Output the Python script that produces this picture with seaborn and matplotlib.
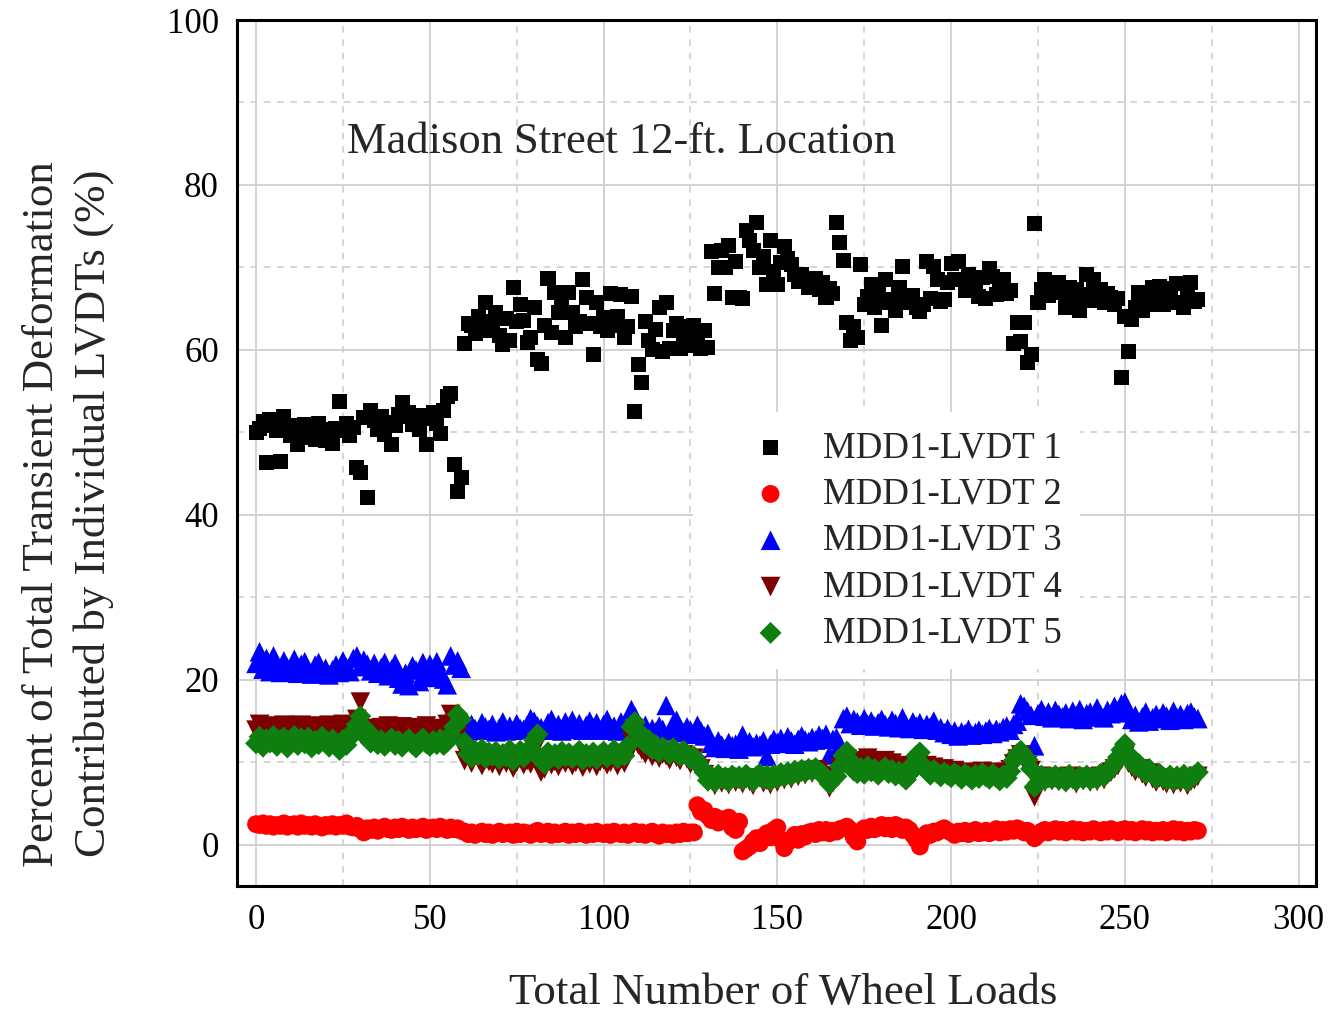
import numpy as np
import pandas as pd
import matplotlib
matplotlib.use("Agg")
import matplotlib.pyplot as plt
from matplotlib.ticker import MultipleLocator
import seaborn as sns

# Percent of total transient deformation per LVDT, one value per wheel load
lvdt1 = [
    50.0, 50.5, 51.3, 46.4, 51.6, 50.8, 50.2, 46.5, 51.9, 50.6,
    49.6, 50.8, 48.5, 49.4, 50.9, 49.8, 50.6, 49.2, 51.1, 50.3,
    49.0, 50.2, 48.7, 50.5, 53.8, 50.2, 51.1, 49.6, 50.6, 45.7,
    45.1, 51.8, 42.1, 52.7, 51.4, 50.3, 51.9, 49.7, 51.2, 48.5,
    50.8, 52.2, 53.6, 51.9, 52.4, 50.9, 51.5, 50.4, 52.0, 48.5,
    51.7, 52.4, 51.1, 49.9, 52.6, 54.3, 54.7, 46.1, 42.8, 44.5,
    60.8, 63.2, 63.0, 62.0, 64.0, 62.5, 65.8, 62.4, 63.5, 64.5,
    61.8, 60.6, 63.8, 61.2, 67.6, 63.5, 65.5, 63.6, 60.9, 61.5,
    65.2, 58.8, 58.4, 63.0, 68.7, 62.1, 67.0, 64.5, 65.8, 61.5,
    67.0, 64.5, 62.8, 63.5, 68.5, 66.4, 63.2, 59.4, 65.7, 62.8,
    63.9, 62.4, 66.9, 63.0, 64.0, 66.7, 61.5, 62.9, 66.5, 52.5,
    58.2, 56.0, 63.4, 61.2, 60.0, 62.5, 65.1, 59.8, 65.8, 60.2,
    62.4, 63.2, 60.2, 61.8, 62.8, 60.5, 63.0, 61.3, 60.2, 62.4,
    60.3,
    71.9, 66.9, 70.0, 72.0, 70.0, 72.7, 66.3, 70.7, 66.3, 66.2,
    74.5, 73.3, 72.1, 75.4, 70.0, 71.3, 67.9, 73.3, 69.5, 67.9,
    70.6, 72.5, 71.1, 70.3, 69.2, 68.3, 69.1, 68.5, 67.6, 67.9,
    68.6, 67.3, 68.2, 66.3, 67.5, 66.8, 75.5, 73.0, 70.9, 63.3,
    61.2, 62.8, 61.5, 70.3, 65.5, 66.5, 67.9, 65.2, 66.9, 63.0,
    68.5, 65.8, 66.1, 64.8, 67.6, 70.1, 66.4, 65.8, 66.6, 65.1,
    64.7, 65.5, 70.7, 66.2, 70.1, 68.5, 65.9, 66.1, 68.2, 70.5,
    68.5, 70.7, 68.5, 67.2, 69.1, 68.0, 67.5, 66.5, 68.8, 66.2,
    69.9, 68.9, 66.7, 67.8, 68.5, 66.9, 67.2, 60.8, 63.3, 61.0,
    63.3, 58.5, 59.4, 75.3, 65.8, 67.3, 68.5, 66.6, 67.9, 68.0,
    68.2, 67.0, 65.1, 67.6, 66.5, 67.3, 64.8, 66.0, 69.1, 66.7,
    68.5, 66.0, 67.3, 65.8, 66.9, 66.4, 65.5, 66.2, 56.6, 64.0,
    59.8, 63.7, 65.2, 67.0, 64.8, 66.3, 65.5, 67.6, 66.0, 67.7,
    65.5, 67.5, 66.2, 65.8, 68.1, 65.7, 65.1, 66.8, 68.2, 65.9, 66.1,
]

lvdt2 = [
    2.5, 2.4, 2.6, 2.3, 2.5, 2.2, 2.4, 2.3, 2.6, 2.2,
    2.4, 2.5, 2.2, 2.6, 2.3, 2.4, 2.2, 2.5, 2.3, 2.1,
    2.4, 2.3, 2.5, 2.2, 2.4, 2.3, 2.6, 2.2, 2.1, 2.3,
    1.9, 1.5, 2.0, 1.8, 2.1, 1.7, 2.0, 2.2, 1.9, 1.8,
    2.1, 1.9, 2.2, 2.0, 1.8, 2.1, 1.9, 2.0, 2.2, 1.8,
    2.0, 2.1, 1.9, 2.2, 2.0, 1.8, 2.1, 1.9, 2.0, 1.7,
    1.6, 1.3, 1.5, 1.2, 1.4, 1.6, 1.3, 1.5, 1.2, 1.4,
    1.6, 1.3, 1.4, 1.5, 1.2, 1.6, 1.3, 1.5, 1.4, 1.2,
    1.5, 1.7, 1.3, 1.4, 1.6, 1.2, 1.5, 1.3, 1.4, 1.6,
    1.2, 1.5, 1.3, 1.6, 1.4, 1.2, 1.5, 1.3, 1.6, 1.4,
    1.3, 1.5, 1.2, 1.6, 1.4, 1.3, 1.5, 1.2, 1.4, 1.6,
    1.3, 1.5, 1.2, 1.4, 1.6, 1.3, 1.1, 1.5, 1.3, 1.4,
    1.2, 1.5, 1.3, 1.6, 1.4, 1.5, 1.5, 4.8, 4.0, 4.2,
    3.5, 3.0, 3.4, 2.7, 3.1, 2.9, 3.3, 2.1, 1.8, 2.8,
    -0.8, -0.5, -0.2, 0.4, 0.8, 0.2, 1.0, 1.4, 0.9, 1.8,
    2.1, 0.6, -0.4, 0.3, 0.7, 1.2, 0.6, 1.3, 1.0, 1.5,
    1.6, 1.3, 1.8, 1.5, 1.8, 1.4, 1.7, 1.6, 1.9, 2.0,
    2.2, 1.8, 0.9, 0.4, 1.6, 2.0, 1.8, 2.2, 1.9, 2.1,
    2.4, 2.0, 2.3, 1.9, 2.4, 2.2, 1.8, 2.1, 1.8, 1.2,
    0.6, -0.2, 0.8, 1.4, 1.2, 1.6, 1.5, 1.8, 2.0, 1.7,
    1.5, 1.2, 1.6, 1.4, 1.7, 1.3, 1.6, 1.8, 1.4, 1.5,
    1.7, 1.4, 1.6, 1.9, 1.5, 1.8, 1.6, 1.9, 1.7, 2.0,
    1.8, 1.5, 1.7, 1.3, 0.8, 1.2, 1.6, 1.8, 1.5, 1.7,
    1.9, 1.6, 1.8, 1.5, 1.7, 1.9, 1.6, 1.8, 1.5, 1.7,
    1.6, 1.9, 1.7, 1.5, 1.8, 1.6, 1.9, 1.7, 1.5, 1.8,
    1.9, 1.6, 1.8, 1.5, 1.7, 1.9, 1.6, 1.8, 1.5, 1.7,
    1.6, 1.8, 1.5, 1.7, 1.9, 1.6, 1.8, 1.5, 1.7, 1.6, 1.8, 1.7,
]

lvdt3 = [
    22.0, 23.4, 21.3, 22.6, 21.0, 22.9, 21.8, 20.9, 22.3, 21.5,
    21.1, 22.5, 20.8, 21.9, 22.2, 21.0, 20.7, 21.8, 22.1, 20.9,
    21.4, 20.6, 21.2, 21.8, 20.9, 22.3, 21.5, 21.0, 22.6, 22.9,
    21.6, 22.4, 21.9, 21.1, 22.0, 20.8, 21.5, 22.1, 20.5, 21.3,
    22.0, 20.2, 19.5, 20.8, 19.3, 21.7, 21.2, 19.8, 22.1, 20.6,
    21.9, 20.3, 22.2, 21.0, 20.1, 19.4, 22.9, 21.8, 22.3, 21.4,
    14.9, 13.8, 14.6, 14.1, 13.9, 14.8, 14.3, 14.0, 14.6, 13.7,
    14.2, 14.9, 13.8, 14.4, 13.9, 14.7, 14.1, 14.0, 14.5, 15.3,
    15.0, 14.4, 14.2, 13.9, 14.8, 15.2, 14.1, 14.6, 13.8, 14.9,
    14.3, 15.1, 14.0, 14.7, 13.9, 14.5, 15.0, 14.2, 14.8, 13.9,
    14.6, 15.2, 14.1, 14.4, 13.8, 14.9, 14.3, 14.0, 16.4, 15.6,
    14.2, 13.9, 14.5, 13.6, 14.1, 13.7, 14.4, 14.0, 16.9, 13.8,
    14.7, 15.1, 14.2, 13.6, 14.3, 13.9, 13.4, 14.5, 13.8, 13.2,
    13.5, 12.3, 11.8, 12.6, 12.1, 11.7, 12.4, 12.0, 12.2, 11.6,
    13.3, 12.0, 12.5, 11.9, 12.3, 12.1, 12.6, 10.7, 12.2, 12.8,
    12.4, 12.9, 12.3, 13.1, 12.6, 12.2, 12.8, 13.2, 12.7, 12.5,
    13.0, 12.7, 13.3, 12.9, 13.4, 10.9, 12.8, 13.0, 12.2, 15.3,
    15.6, 14.7, 15.2, 14.9, 14.5, 15.3, 14.6, 15.0, 14.4, 14.8,
    15.2, 14.6, 14.3, 15.1, 14.7, 14.2, 15.4, 14.5, 14.1, 14.9,
    14.4, 14.8, 14.0, 14.6, 14.3, 15.0, 13.9, 14.2, 13.6, 14.1,
    13.4, 13.8, 13.2, 13.7, 13.5, 14.0, 13.3, 13.6, 13.9, 13.4,
    13.8, 14.1, 13.5, 14.0, 13.7, 14.2, 14.4, 13.9, 14.6, 15.0,
    17.1, 16.8, 16.2, 15.7, 12.0, 15.9, 16.4, 15.6, 16.1, 15.4,
    16.3, 15.8, 15.5, 16.0, 15.3, 16.2, 15.7, 16.4, 15.2, 15.9,
    16.1, 15.5, 16.6, 15.8, 15.4, 16.3, 15.9, 16.8, 16.2, 17.1,
    17.3, 16.0, 15.2, 15.7, 14.9, 15.5, 16.1, 15.0, 15.4, 15.8,
    15.3, 16.0, 15.6, 15.1, 16.2, 15.4, 15.8, 15.2, 15.9, 16.1, 15.5, 15.3,
]

lvdt4 = [
    13.9, 14.6, 13.5, 14.2, 13.8, 14.4, 13.6, 14.1, 14.5, 13.7,
    14.0, 14.3, 13.6, 14.5, 13.9, 14.2, 13.7, 14.4, 13.8, 14.1,
    13.6, 14.5, 14.0, 13.7, 14.3, 14.6, 13.5, 14.2, 14.4, 15.2,
    17.3, 14.0, 13.2, 13.8, 14.1, 13.6, 14.2, 13.9, 14.4, 13.5,
    14.0, 13.7, 14.3, 13.8, 13.4, 14.1, 13.6, 14.2, 13.9, 14.4,
    13.7, 14.1, 13.5, 13.3, 14.0, 14.6, 15.8, 14.7, 13.2, 12.1,
    10.2, 10.8, 9.9, 11.0, 10.4, 9.6, 10.7, 10.1, 9.8, 10.5,
    9.5, 10.3, 9.9, 10.6, 9.3, 10.0, 10.4, 9.7, 10.2, 9.8,
    11.5, 12.2, 8.8, 9.2, 10.5, 9.7, 10.1, 9.5, 10.3, 9.9,
    10.4, 9.6, 10.0, 10.6, 9.4, 10.2, 9.8, 10.5, 9.5, 10.1,
    10.3, 9.7, 10.0, 10.6, 9.6, 10.4, 9.9, 10.8, 12.6, 13.5,
    12.1, 11.5, 11.0, 11.6, 10.7, 11.2, 10.5, 11.0, 10.8, 10.3,
    11.1, 10.6, 10.2, 10.9, 10.4, 9.8, 10.5, 9.6, 9.2, 8.5,
    7.6, 7.9, 7.2, 8.0, 7.5, 7.8, 7.3, 8.1, 7.6, 7.9,
    7.4, 8.0, 7.7, 7.2, 7.9, 8.1, 7.5, 7.8, 7.3, 8.0,
    7.6, 8.2, 7.9, 8.4, 8.0, 8.6, 8.3, 8.8, 8.5, 9.0,
    8.7, 9.1, 8.8, 8.4, 7.8, 6.9, 7.5, 8.2, 9.3, 10.0,
    10.4, 9.8, 9.1, 9.6, 10.2, 9.4, 10.5, 9.7, 10.1, 9.3,
    9.8, 10.2, 9.5, 9.9, 9.0, 9.6, 9.2, 8.8, 9.4, 9.0,
    9.7, 10.1, 9.3, 9.6, 8.9, 9.4, 9.1, 8.7, 9.2, 8.9,
    8.4, 9.0, 8.6, 8.2, 8.8, 8.5, 8.1, 8.7, 8.3, 8.9,
    8.5, 8.2, 8.8, 8.4, 8.0, 8.6, 8.3, 9.1, 9.8, 10.4,
    10.9, 10.2, 9.6, 9.0, 5.8, 7.2, 8.3, 7.6, 8.1, 7.8,
    8.2, 7.7, 8.0, 7.5, 8.3, 7.9, 7.4, 8.1, 7.8, 8.2,
    7.6, 8.0, 7.7, 8.3, 7.9, 8.5, 8.8, 9.2, 9.6, 10.3,
    10.8, 9.9, 9.4, 8.9, 9.2, 8.6, 8.2, 8.7, 8.0, 7.6,
    8.1, 7.7, 7.4, 7.9, 7.3, 7.8, 7.5, 8.0, 7.2, 7.7, 7.9, 8.3,
]

lvdt5 = [
    12.3, 13.1, 11.9, 12.8, 12.4, 13.2, 12.0, 12.7, 13.0, 11.8,
    12.5, 13.2, 12.1, 12.9, 12.3, 13.0, 11.8, 12.6, 12.2, 13.1,
    12.4, 11.9, 12.8, 12.2, 11.5, 12.7, 12.1, 13.0, 13.8, 14.6,
    15.6, 14.3, 12.9, 12.4, 13.0, 12.2, 12.7, 12.0, 12.5, 12.9,
    12.1, 12.6, 11.9, 12.4, 12.8, 12.2, 11.8, 12.5, 12.9, 12.3,
    12.0, 12.6, 12.2, 12.8, 12.1, 12.5, 13.4, 14.3, 15.8, 15.2,
    12.4, 11.0, 10.6, 11.4, 10.9, 11.6, 10.5, 11.2, 10.8, 11.3,
    10.4, 11.0, 10.7, 11.5, 10.2, 10.9, 11.4, 10.6, 11.1, 11.8,
    12.7, 13.4, 10.3, 9.8, 11.2, 10.6, 11.0, 10.4, 11.3, 10.7,
    11.1, 10.5, 10.9, 11.4, 10.3, 11.0, 10.6, 11.2, 10.4, 10.9,
    11.3, 10.6, 11.0, 11.5, 10.5, 11.1, 10.8, 12.0, 14.3, 14.9,
    13.8, 12.9, 12.3, 12.7, 11.6, 12.1, 11.2, 11.8, 11.5, 11.0,
    11.7, 11.2, 10.8, 11.4, 10.9, 10.4, 10.7, 10.1, 9.4, 8.8,
    7.8, 8.3, 7.6, 8.5, 8.0, 8.2, 7.7, 8.4, 8.1, 8.3,
    7.9, 8.5, 8.1, 7.7, 8.3, 8.6, 8.0, 8.4, 7.8, 8.5,
    8.1, 8.7, 8.3, 8.8, 8.4, 9.0, 8.7, 9.1, 8.8, 9.2,
    9.0, 9.3, 8.9, 8.6, 8.0, 7.4, 7.9, 8.3, 9.5, 10.8,
    11.3, 10.2, 9.0, 8.7, 9.3, 8.6, 9.5, 8.9, 9.2, 8.5,
    9.0, 9.4, 8.7, 9.1, 8.4, 8.9, 8.3, 7.9, 8.6, 9.8,
    10.8, 11.2, 9.6, 9.0, 8.5, 9.1, 8.7, 8.3, 8.8, 8.5,
    8.2, 8.7, 8.4, 8.0, 8.6, 8.3, 7.9, 8.5, 8.1, 8.7,
    8.3, 8.0, 8.6, 8.2, 7.8, 8.4, 8.1, 8.9, 10.2, 11.0,
    11.4, 10.8, 10.3, 9.2, 7.0, 7.5, 8.4, 7.9, 8.2, 8.0,
    8.4, 7.9, 8.2, 7.7, 8.5, 8.1, 7.8, 8.3, 8.0, 8.4,
    7.9, 8.2, 8.0, 8.6, 8.3, 8.8, 9.3, 9.9, 10.6, 11.5,
    12.2, 11.0, 10.1, 9.5, 9.8, 9.1, 8.7, 9.2, 8.5, 8.1,
    8.6, 8.2, 7.9, 8.4, 7.8, 8.3, 8.0, 8.5, 7.7, 8.2, 8.4, 8.8,
]

series_names = ["MDD1-LVDT 1", "MDD1-LVDT 2", "MDD1-LVDT 3",
                "MDD1-LVDT 4", "MDD1-LVDT 5"]
series_values = [lvdt1, lvdt2, lvdt3, lvdt4, lvdt5]
for vals in series_values:
    assert len(vals) == 272, len(vals)

wheel_loads = np.arange(272)

markers = ["s", "o", "^", "v", "D"]
colors = ["#000000", "#FF0000", "#0000FF", "#7F0000", "#0E7E0E"]
sizes = [117, 165, 200, 200, 125]

sns.set_theme(style="white")
plt.rcParams["font.family"] = ["Liberation Serif", "DejaVu Serif"]

fig = plt.figure(figsize=(13.32, 10.11), dpi=100)
ax = fig.add_axes([0.1779, 0.1236, 0.8101, 0.8566])

for name, vals, m, c, s in zip(series_names, series_values, markers, colors, sizes):
    df = pd.DataFrame({"loads": wheel_loads, "pct": vals})
    sns.scatterplot(data=df, x="loads", y="pct", marker=m, color=c, s=s,
                    linewidth=0, edgecolor="none", label=name, ax=ax, zorder=3)

ax.set_xlim(-5.5, 305)
ax.set_ylim(-5, 100)
ax.xaxis.set_major_locator(MultipleLocator(50))
ax.xaxis.set_minor_locator(MultipleLocator(25))
ax.yaxis.set_major_locator(MultipleLocator(20))
ax.yaxis.set_minor_locator(MultipleLocator(10))

ax.set_axisbelow(True)
ax.grid(which="major", color="#cfcfcf", linewidth=1.3, linestyle="-")
ax.grid(which="minor", color="#cfcfcf", linewidth=1.2, linestyle=(0, (4, 4)))

for sp in ax.spines.values():
    sp.set_visible(True)
    sp.set_color("black")
    sp.set_linewidth(2.2)

ax.tick_params(which="major", direction="in", length=9, width=2.2,
               labelsize=25, pad=13, colors="black", top=False, right=False)
ax.tick_params(which="minor", direction="in", length=5, width=2.0,
               top=False, right=False)

ax.set_xlabel("Total Number of Wheel Loads", fontsize=32.4, labelpad=26)
ax.xaxis.label.set_x(0.506)
ax.set_ylabel("Percent of Total Transient Deformation\n"
              "Contributed by Individual LVDTs (%)", fontsize=32.4,
              labelpad=38, linespacing=1.35)
ax.yaxis.label.set_y(0.43)

ax.text(0.102, 0.859, "Madison Street 12-ft. Location", transform=ax.transAxes,
        fontsize=32, ha="left", va="center")

leg = ax.legend(loc="upper left", bbox_to_anchor=(0.4226, 0.547),
                borderaxespad=0, fontsize=26.6, frameon=True,
                handlelength=3.2, handletextpad=-0.19,
                labelspacing=0.32, borderpad=0.5, scatterpoints=1)
leg.get_frame().set_facecolor("white")
leg.get_frame().set_edgecolor("none")
leg.get_frame().set_alpha(1.0)

fig.savefig("out.png", dpi=100)
